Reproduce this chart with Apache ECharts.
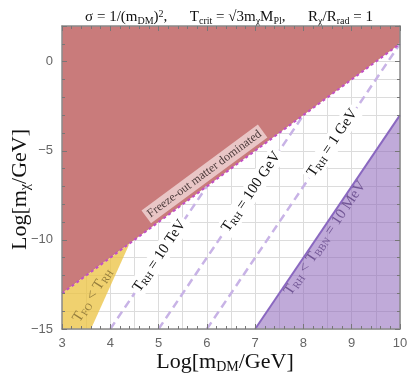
<!DOCTYPE html>
<html>
<head>
<meta charset="utf-8">
<script src="https://cdn.jsdelivr.net/npm/echarts@6/dist/echarts.min.js"></script>
<style>
  html, body { margin: 0; padding: 0; background: #fff; }
  #main { width: 415px; height: 376px; }
</style>
</head>
<body>
<div id="main"></div>
<script>
  // axis ranges: Log[mDM/GeV] and Log[m_chi/GeV]
  const xRange = [3, 10]
  const yRange = [-15, 2]

  // boundary lines, points are [log mDM, log mchi]
  const freezeOutLine = [[3, -13], [10, 1]]   // freeze-out matter dominated
  const tfoLine = [[3.6, -15], [4.4, -10.2]]  // T_FO = T_RH
  const bbnLine = [[7, -15], [10, -3]]        // T_RH = T_BBN = 10 MeV
  const trh10TeV = [[4, -15], [6, -7]]
  const trh100GeV = [[5, -15], [8, -3]]
  const trh1GeV = [[6, -15], [10, 1]]

  // shaded regions built from the lines above
  const redRegion = [freezeOutLine[0], freezeOutLine[1], [xRange[1], yRange[1]], [xRange[0], yRange[1]]]
  const yellowRegion = [[xRange[0], yRange[0]], tfoLine[0], tfoLine[1], freezeOutLine[0]]
  const purpleRegion = [bbnLine[0], bbnLine[1], [xRange[1], yRange[0]]]

  const serif = '"Liberation Serif", "DejaVu Serif", serif'
  const sans = '"Liberation Sans", Arial, sans-serif'

  const chart = echarts.init(document.getElementById('main'))

  function polygonSeries(points, color, z) {
    return {
      type: 'custom',
      coordinateSystem: 'cartesian2d',
      silent: true,
      z: z,
      clip: true,
      data: [0],
      renderItem: function (params, api) {
        return {
          type: 'polygon',
          shape: { points: points.map(p => api.coord(p)) },
          style: { fill: color }
        }
      }
    }
  }

  function lineSeries(data, style, z) {
    return {
      type: 'line',
      data: data,
      showSymbol: false,
      silent: true,
      z: z,
      lineStyle: style
    }
  }

  const subRich = (size) => ({
    s: { fontSize: size, fontFamily: serif, lineHeight: 6, verticalAlign: 'bottom' }
  })

  // text put along the curves
  const labels = [
    { text: 'T{s|RH} = 10 TeV', at: [5.02, -10.9], dir: trh10TeV, size: 15, sub: 10, color: '#111', bg: '#fff' },
    { text: 'T{s|RH} = 100 GeV', at: [6.92, -7.3], dir: trh100GeV, size: 15, sub: 10, color: '#111', bg: '#fff' },
    { text: 'T{s|RH} = 1 GeV', at: [8.6, -4.55], dir: trh1GeV, size: 15, sub: 10, color: '#111', bg: '#fff' },
    { text: 'Freeze-out matter dominated', at: [5.95, -6.3], dir: freezeOutLine, size: 12, sub: 8, color: '#4d3b3b', bg: 'rgba(238,212,212,0.85)' },
    { text: 'T{s|RH} < T{s|BBN} = 10 MeV', at: [8.45, -9.9], dir: bbnLine, size: 15, sub: 10, color: 'rgba(80,50,120,0.7)', bg: null },
    { text: 'T{s|FO} < T{s|RH}', at: [3.63, -13.1], angle: 58, size: 15, sub: 10, color: 'rgba(110,90,40,0.7)', bg: null }
  ]

  const labelSeries = {
    type: 'custom',
    coordinateSystem: 'cartesian2d',
    silent: true,
    z: 10,
    data: labels.map((l, i) => i),
    renderItem: function (params, api) {
      const l = labels[params.dataIndex]
      const p = api.coord(l.at)
      let rot
      if (l.dir) {
        const a = api.coord(l.dir[0])
        const b = api.coord(l.dir[1])
        rot = Math.atan2(a[1] - b[1], b[0] - a[0])
      } else {
        rot = l.angle * Math.PI / 180
      }
      const style = {
        text: l.text,
        fontFamily: serif,
        fontSize: l.size,
        lineHeight: l.size + 2,
        fill: l.color,
        align: 'center',
        verticalAlign: 'middle',
        rich: subRich(l.sub)
      }
      if (l.bg) {
        style.backgroundColor = l.bg
        style.padding = [1, 3]
      }
      return { type: 'text', x: p[0], y: p[1], rotation: rot, style: style }
    }
  }

  const lineCol = '#8a8a8a'
  const tickCol = '#777'

  // x frame axis (bottom with labels, top mirrored)
  const xFrame = {
    type: 'value', z: 20,
    min: xRange[0], max: xRange[1], interval: 1,
    axisLine: { show: true, onZero: false, lineStyle: { color: lineCol, width: 1.5 } },
    axisTick: { show: true, inside: true, length: 5, lineStyle: { color: tickCol } },
    minorTick: { show: true, splitNumber: 5, length: 3, lineStyle: { color: tickCol } },
    splitLine: { show: false }
  }
  // y frame axes: major ticks every 5, minor ticks every 1
  const yMajor = {
    type: 'value', z: 20,
    min: yRange[0], max: yRange[1], interval: 5,
    axisLine: { show: true, onZero: false, lineStyle: { color: lineCol, width: 1.5 } },
    axisTick: { show: true, inside: true, length: 5, lineStyle: { color: tickCol } },
    axisLabel: { show: false },
    splitLine: { show: false }
  }
  const yMinor = {
    type: 'value', z: 20,
    min: yRange[0], max: yRange[1], interval: 1,
    axisLine: { show: false, onZero: false },
    axisTick: { show: true, inside: true, length: 3, lineStyle: { color: tickCol } },
    axisLabel: { show: false },
    splitLine: { show: false }
  }
  const gridLine = { show: true, lineStyle: { color: '#dcdcdc', width: 1 } }

  const option = {
    animation: false,
    backgroundColor: '#fff',
    title: {
      text: 'σ = 1/(m{s|DM}){p|2},      T{s|crit} = √3m{s|χ}M{s|Pl},      R{s|χ}/R{s|rad} = 1',
      left: 224,
      top: 4,
      textAlign: 'center',
      textStyle: {
        fontFamily: serif, fontSize: 15, fontWeight: 'normal', color: '#111', lineHeight: 17,
        rich: {
          s: { fontSize: 10, fontFamily: serif, color: '#111', lineHeight: 6, verticalAlign: 'bottom' },
          p: { fontSize: 10, fontFamily: serif, color: '#111', lineHeight: 8, verticalAlign: 'top' }
        }
      }
    },
    grid: { left: 62, right: 15, top: 26, bottom: 47, containLabel: false, outerBoundsMode: 'none' },
    xAxis: [
      Object.assign({}, xFrame, {
        position: 'bottom',
        axisLabel: { color: '#666', fontFamily: sans, fontSize: 13, margin: 8 },
        name: 'Log[m{s|DM}/GeV]',
        nameLocation: 'middle',
        nameMoveOverlap: false,
        nameGap: 21,
        nameTextStyle: {
          fontFamily: serif, fontSize: 22, color: '#111', lineHeight: 24,
          padding: [0, 12, 0, 0],
          rich: { s: { fontSize: 14, fontFamily: serif, color: '#111', lineHeight: 10, verticalAlign: 'bottom' } }
        }
      }),
      Object.assign({}, xFrame, { position: 'top', axisLabel: { show: false } }),
      {
        type: 'value', position: 'bottom', z: 0,
        min: xRange[0], max: xRange[1], interval: 0.5,
        axisLine: { show: false, onZero: false }, axisTick: { show: false }, axisLabel: { show: false },
        splitLine: gridLine
      }
    ],
    yAxis: [
      Object.assign({}, yMajor, {
        position: 'left',
        axisLabel: {
          show: true, color: '#666', fontFamily: sans, fontSize: 13, margin: 9,
          formatter: v => (v % 5 === 0 ? String(v).replace('-', '−') : '')
        },
        name: 'Log[m{s|χ}/GeV]',
        nameLocation: 'middle',
        nameMoveOverlap: false,
        nameGap: 30,
        nameTextStyle: {
          fontFamily: serif, fontSize: 22, color: '#111', lineHeight: 24,
          padding: [0, 24, 0, 0],
          rich: { s: { fontSize: 14, fontFamily: serif, color: '#111', lineHeight: 10, verticalAlign: 'bottom' } }
        }
      }),
      Object.assign({}, yMajor, { position: 'right' }),
      Object.assign({}, yMinor, { position: 'left' }),
      Object.assign({}, yMinor, { position: 'right' }),
      {
        type: 'value', position: 'left', z: 0,
        min: yRange[0], max: yRange[1], interval: 1,
        axisLine: { show: false, onZero: false }, axisTick: { show: false }, axisLabel: { show: false },
        splitLine: gridLine
      }
    ],
    series: [
      polygonSeries(redRegion, '#c97b7b', 2),
      polygonSeries(yellowRegion, 'rgba(236,196,70,0.78)', 2),
      polygonSeries(purpleRegion, 'rgba(140,100,186,0.55)', 2),
      lineSeries(trh10TeV, { color: '#c8b3e6', width: 2.5, type: [8, 5] }, 3),
      lineSeries(trh100GeV, { color: '#c8b3e6', width: 2.5, type: [8, 5] }, 3),
      lineSeries(trh1GeV, { color: '#c8b3e6', width: 2.5, type: [8, 5] }, 3),
      lineSeries(bbnLine, { color: '#8a68c0', width: 2 }, 4),
      lineSeries(freezeOutLine, { color: '#c24fc4', width: 2, type: [3, 3] }, 4),
      labelSeries
    ]
  }

  chart.setOption(option)
</script>
</body>
</html>
